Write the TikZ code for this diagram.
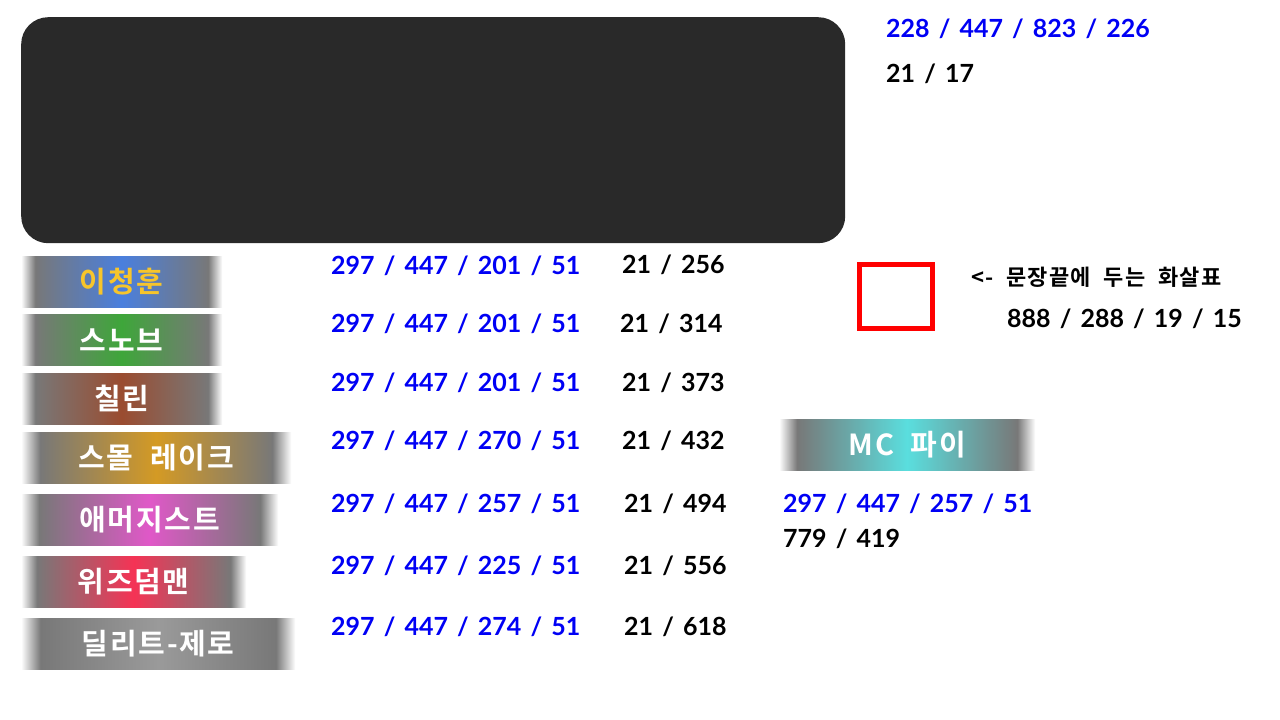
\documentclass[tikz,border=0pt]{standalone}
\usepackage{fontspec}
\setmainfont{Lato}
\newfontfamily\numfont{Lato}[WordSpace=1.5]
\newfontfamily\kofont{Noto Sans CJK KR}[BoldFont={* Bold}, LetterSpace=6]
\newfontfamily\notefont{Noto Sans CJK KR}[BoldFont={* Bold}, LetterSpace=6, WordSpace=2]

\definecolor{panelgray}{RGB}{41,41,41}
\definecolor{numblue}{RGB}{0,0,245}
\definecolor{edgegray}{RGB}{120,120,120}
\definecolor{nameyellow}{RGB}{247,197,43}
\definecolor{cheongblue}{RGB}{74,127,222}
\definecolor{snobgreen}{RGB}{62,166,58}
\definecolor{chillbrown}{RGB}{154,76,48}
\definecolor{lakegold}{RGB}{212,154,36}
\definecolor{amerpink}{RGB}{224,88,200}
\definecolor{wizred}{RGB}{245,51,85}
\definecolor{deletegray}{RGB}{154,154,154}
\definecolor{mccyan}{RGB}{90,222,222}

\colorlet{barmid}{gray}
\pgfdeclarehorizontalshading[barmid]{namebar}{100bp}{color(0bp)=(white); color(25bp)=(white); color(28.5bp)=(edgegray); color(50bp)=(barmid); color(71.5bp)=(edgegray); color(75bp)=(white); color(100bp)=(white)}

\tikzset{
  namebar/.style={shade, shading=namebar, /utils/exec={\colorlet{barmid}{#1}},
    anchor=north west, minimum height=51pt, inner sep=0pt, text=white,
    font=\kofont\bfseries\fontsize{29}{29}\selectfont},
  bluenum/.style={anchor=base west, inner sep=0pt, text=numblue,
    font=\numfont\bfseries\fontsize{25}{25}\selectfont},
  blacknum/.style={bluenum, text=black},
}

\begin{document}
\begin{tikzpicture}[x=1pt, y=-1pt]

\fill [white] (0,0) rectangle (1280,720);

% Screen panel
\node [fill=panelgray,
    rounded corners=27pt,
    minimum width=824pt,
    minimum height=226pt,
    anchor=north west] (panel) at (21,17){};
\node [bluenum] (panelsize) at (886,37) {228 / 447 / 823 / 226};
\node [blacknum] (panelpos) at (886,82) {21 / 17};

% Name bars
\node [namebar=cheongblue, text=nameyellow, minimum width=201pt] (cheong) at (21,256) {이청훈};
\node [namebar=snobgreen, minimum width=201pt] (snob) at (21,314) {스노브};
\node [namebar=chillbrown, minimum width=201pt] (chill) at (21,373) {칠린};
\node [namebar=lakegold, minimum width=270pt] (lake) at (21,432) {스몰 레이크};
\node [namebar=amerpink, minimum width=257pt] (amer) at (21,494) {애머지스트};
\node [namebar=wizred, minimum width=225pt] (wiz) at (21,556) {위즈덤맨};
\node [namebar=deletegray, minimum width=274pt] (delete) at (21,618) {딜리트-제로};

% Bar sizes
\node [bluenum] (cheongsize) at (331,274) {297 / 447 / 201 / 51};
\node [bluenum] (snobsize) at (331,332) {297 / 447 / 201 / 51};
\node [bluenum] (chillsize) at (331,391) {297 / 447 / 201 / 51};
\node [bluenum] (lakesize) at (331,449) {297 / 447 / 270 / 51};
\node [bluenum] (amersize) at (331,512) {297 / 447 / 257 / 51};
\node [bluenum] (wizsize) at (331,574) {297 / 447 / 225 / 51};
\node [bluenum] (deletesize) at (331,635) {297 / 447 / 274 / 51};

% Bar positions
\node [blacknum] (cheongpos) at (622,273) {21 / 256};
\node [blacknum] (snobpos) at (620,332) {21 / 314};
\node [blacknum] (chillpos) at (622,391) {21 / 373};
\node [blacknum] (lakepos) at (622,449) {21 / 432};
\node [blacknum] (amerpos) at (624,512) {21 / 494};
\node [blacknum] (wizpos) at (624,574) {21 / 556};
\node [blacknum] (deletepos) at (624,635) {21 / 618};

% Arrow box
\node [draw=red,
    line width=4.5pt,
    minimum width=73pt,
    minimum height=64pt] (arrowbox) at (896,296.5){};
\node [anchor=west, inner sep=0pt,
    font=\notefont\bfseries\fontsize{22}{22}\selectfont] (arrownote) at (971,277.5) {<- 문장끝에 두는 화살표};
\node [blacknum] (arrowsize) at (1007,327) {888 / 288 / 19 / 15};

% MC bar
\node [namebar=mccyan, minimum width=256pt] (mc) at (779,419) {MC 파이};
\node [bluenum] (mcsize) at (783,512) {297 / 447 / 257 / 51};
\node [blacknum] (mcpos) at (783,547) {779 / 419};

\end{tikzpicture}
\end{document}
